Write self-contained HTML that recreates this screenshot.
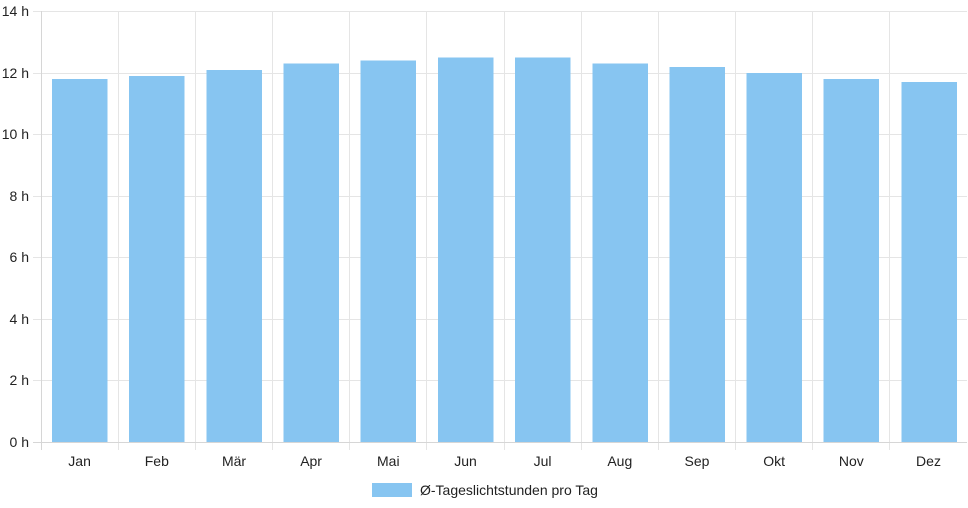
<!DOCTYPE html>
<html><head><meta charset="utf-8"><style>
html,body{margin:0;padding:0;background:#fff;}
svg{display:block;font-family:"Liberation Sans",Arial,sans-serif;}
</style></head><body>
<svg width="968" height="508" viewBox="0 0 968 508" xmlns="http://www.w3.org/2000/svg">
<g stroke="#e5e5e5" stroke-width="1" shape-rendering="crispEdges">
<line x1="33" y1="11.5" x2="967" y2="11.5"/>
<line x1="33" y1="73.5" x2="967" y2="73.5"/>
<line x1="33" y1="134.5" x2="967" y2="134.5"/>
<line x1="33" y1="196.5" x2="967" y2="196.5"/>
<line x1="33" y1="257.5" x2="967" y2="257.5"/>
<line x1="33" y1="319.5" x2="967" y2="319.5"/>
<line x1="33" y1="380.5" x2="967" y2="380.5"/>
<line x1="118.5" y1="11" x2="118.5" y2="450"/>
<line x1="195.5" y1="11" x2="195.5" y2="450"/>
<line x1="272.5" y1="11" x2="272.5" y2="450"/>
<line x1="349.5" y1="11" x2="349.5" y2="450"/>
<line x1="426.5" y1="11" x2="426.5" y2="450"/>
<line x1="504.5" y1="11" x2="504.5" y2="450"/>
<line x1="581.5" y1="11" x2="581.5" y2="450"/>
<line x1="658.5" y1="11" x2="658.5" y2="450"/>
<line x1="735.5" y1="11" x2="735.5" y2="450"/>
<line x1="812.5" y1="11" x2="812.5" y2="450"/>
<line x1="889.5" y1="11" x2="889.5" y2="450"/>
</g>
<g fill="#87c5f1" shape-rendering="crispEdges">
<rect x="52" y="79" width="55.5" height="363"/>
<rect x="129" y="76" width="55.5" height="366"/>
<rect x="206.5" y="70" width="55.5" height="372"/>
<rect x="283.5" y="63.5" width="55.5" height="378.5"/>
<rect x="360.5" y="60.5" width="55.5" height="381.5"/>
<rect x="438" y="57.5" width="55.5" height="384.5"/>
<rect x="515" y="57.5" width="55.5" height="384.5"/>
<rect x="592.5" y="63.5" width="55.5" height="378.5"/>
<rect x="669.5" y="67" width="55.5" height="375"/>
<rect x="746.5" y="73" width="55.5" height="369"/>
<rect x="823.5" y="79" width="55.5" height="363"/>
<rect x="901.5" y="82" width="55.5" height="360"/>
</g>
<g stroke="#d6d6d6" stroke-width="1" shape-rendering="crispEdges">
<line x1="41.5" y1="11" x2="41.5" y2="450"/>
<line x1="33" y1="442.5" x2="967" y2="442.5"/>
</g>
<g fill="#222" font-size="14" text-anchor="end">
<text x="29" y="16">14 h</text>
<text x="29" y="78">12 h</text>
<text x="29" y="139">10 h</text>
<text x="29" y="201">8 h</text>
<text x="29" y="262">6 h</text>
<text x="29" y="324">4 h</text>
<text x="29" y="385">2 h</text>
<text x="29" y="447">0 h</text>
</g>
<g fill="#222" font-size="14" text-anchor="middle">
<text x="79.6" y="466">Jan</text>
<text x="156.8" y="466">Feb</text>
<text x="234" y="466">Mär</text>
<text x="311.1" y="466">Apr</text>
<text x="388.3" y="466">Mai</text>
<text x="465.5" y="466">Jun</text>
<text x="542.6" y="466">Jul</text>
<text x="619.8" y="466">Aug</text>
<text x="697" y="466">Sep</text>
<text x="774.2" y="466">Okt</text>
<text x="851.3" y="466">Nov</text>
<text x="928.5" y="466">Dez</text>
</g>
<rect x="372" y="483" width="40" height="14" fill="#87c5f1"/>
<text x="420" y="495" font-size="14" fill="#222">Ø-Tageslichtstunden pro Tag</text>
</svg>
</body></html>
